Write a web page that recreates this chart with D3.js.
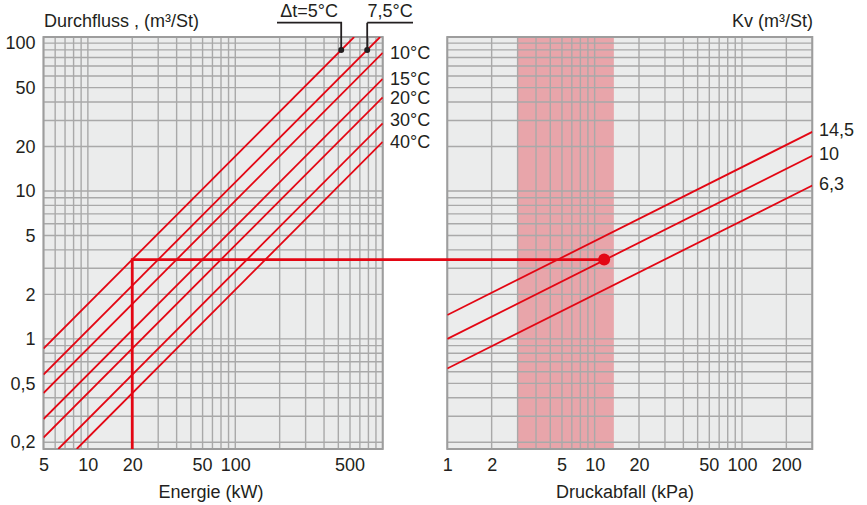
<!DOCTYPE html>
<html lang="de">
<head>
<meta charset="UTF-8">
<title>Durchfluss / Druckabfall</title>
<script src="https://d3js.org/d3.v7.min.js"></script>
<style>
  body { margin: 0; background: #fff; }
  text { font-family: "Liberation Sans", Arial, sans-serif; fill: #231f20; }
</style>
</head>
<body>
<div id="chart"></div>
<script>
// left panel: flow vs. power, one line per temperature difference
const dtNames = ["5", "7,5", "10", "15", "20", "30", "40"];
const dtStart = [[5, 0.86], [5, 0.573], [5, 0.43], [5, 0.287], [5, 0.215], [6.3, 0.18], [8.4, 0.18]];
const dtEnd = [[640, 110], [960, 110], [1000, 86], [1000, 57.3], [1000, 43], [1000, 28.7], [1000, 21.5]];
const dtMarks = [[523, 90], [785, 90]];

// right panel: flow vs. pressure drop, one line per Kv
const kvNames = ["14,5", "10", "6,3"];
const kvStart = [[1, 1.45], [1, 1.0], [1, 0.63]];
const kvEnd = [[300, 25.1], [300, 17.3], [300, 10.9]];
const band = [3, 13.5];

// worked example: 20 kW -> 3,44 m3/h -> 11,6 kPa
const example = { power: 20, flow: 3.44, drop: 11.6 };

const yTicks = [0.2, 0.5, 1, 2, 5, 10, 20, 50, 100];
const xTicksL = [5, 10, 20, 50, 100, 500];
const xTicksR = [1, 2, 5, 10, 20, 50, 100, 200];

const width = 867, height = 505;
const plotTop = 37, plotBottom = 449;
const red = "#e30613", gridCol = "#a9a9a9", bg = "#ebecec";
const fs = "18px";

const svg = d3.select("#chart").append("svg")
  .attr("width", width)
  .attr("height", height);

const y = d3.scaleLog().domain([0.18, 110]).range([plotBottom, plotTop]);
const xL = d3.scaleLog().domain([5, 1000]).range([43.5, 382.7]);
const xR = d3.scaleLog().domain([1, 300]).range([447.3, 812.3]);

function panel(x, id) {
  const [x0, x1] = x.range();
  const g = svg.append("g");
  g.append("rect")
    .attr("x", x0).attr("y", plotTop)
    .attr("width", x1 - x0).attr("height", plotBottom - plotTop)
    .attr("fill", bg);
  if (id === "R") {
    g.append("rect")
      .attr("x", x(band[0])).attr("y", plotTop)
      .attr("width", x(band[1]) - x(band[0])).attr("height", plotBottom - plotTop)
      .attr("fill", "#e8a5aa");
  }
  const grid = g.append("g").attr("stroke", gridCol).attr("stroke-width", 1.4);
  grid.selectAll(".v").data(x.ticks()).join("line").attr("class", "v")
    .attr("x1", d => x(d)).attr("x2", d => x(d))
    .attr("y1", plotTop).attr("y2", plotBottom);
  grid.selectAll(".h").data(y.ticks()).join("line").attr("class", "h")
    .attr("x1", x0).attr("x2", x1)
    .attr("y1", d => y(d)).attr("y2", d => y(d));
  g.append("rect")
    .attr("x", x0).attr("y", plotTop)
    .attr("width", x1 - x0).attr("height", plotBottom - plotTop)
    .attr("fill", "none").attr("stroke", "#9d9d9d").attr("stroke-width", 2);

  svg.append("clipPath").attr("id", "clip" + id)
    .append("rect")
      .attr("x", x0).attr("y", plotTop)
      .attr("width", x1 - x0).attr("height", plotBottom - plotTop);
}

panel(xL, "L");
panel(xR, "R");

// axes
const comma = d => String(d).replace(".", ",");
const yAxis = svg.append("g")
  .attr("transform", `translate(${xL.range()[0]},0)`)
  .call(d3.axisLeft(y).tickValues(yTicks).tickFormat(comma).tickSize(0).tickPadding(8));

function bottomAxis(x, ticks, shifted) {
  const ax = svg.append("g")
    .attr("transform", `translate(0,${plotBottom})`)
    .call(d3.axisBottom(x).tickValues(ticks).tickFormat(comma).tickSize(0).tickPadding(9));
  // the "5" labels sit one grid line to the right in the original drawing
  ax.selectAll(".tick")
    .filter(d => shifted.includes(d))
    .attr("transform", d => `translate(${x(d * 1.2)},0)`);
  return ax;
}
const axL = bottomAxis(xL, xTicksL, [50, 500]);
const axR = bottomAxis(xR, xTicksR, [5, 50]);

[yAxis, axL, axR].forEach(a => {
  a.select(".domain").remove();
  a.selectAll("text").style("font-size", fs).attr("fill", "#231f20");
});

// titles
svg.append("text").attr("x", 44).attr("y", 27).style("font-size", fs)
  .text("Durchfluss , (m³/St)");
svg.append("text").attr("x", 813).attr("y", 27).attr("text-anchor", "end").style("font-size", fs)
  .text("Kv (m³/St)");
svg.append("text").attr("x", 211).attr("y", 498).attr("text-anchor", "middle").style("font-size", fs)
  .text("Energie (kW)");
svg.append("text").attr("x", 625).attr("y", 498).attr("text-anchor", "middle").style("font-size", fs)
  .text("Druckabfall (kPa)");

// left lines
const gL = svg.append("g").attr("clip-path", "url(#clipL)");
gL.selectAll("line").data(dtNames).join("line")
  .attr("x1", (d, i) => xL(dtStart[i][0])).attr("y1", (d, i) => y(dtStart[i][1]))
  .attr("x2", (d, i) => xL(dtEnd[i][0])).attr("y2", (d, i) => y(dtEnd[i][1]))
  .attr("stroke", red).attr("stroke-width", 1.8);

// temperature labels for lines ending on the right edge
dtNames.forEach((d, i) => {
  if (i < 2) return;
  svg.append("text")
    .attr("x", 390).attr("y", y(dtEnd[i][1]) - (d === "30" ? 4 : 0))
    .attr("dy", "0.36em")
    .style("font-size", fs)
    .text(d + "°C");
});

// leader labels for 5 and 7,5
const leaders = [{ text: "\u0394t=5°C", left: 277 }, { text: "7,5°C", right: 413 }];
dtMarks.forEach((m, i) => {
  const mx = xL(m[0]), my = y(m[1]);
  const lx0 = i === 0 ? leaders[i].left : mx;
  const lx1 = i === 0 ? mx : leaders[i].right;
  svg.append("path")
    .attr("d", `M${lx0},22.7H${lx1}` + (i === 0 ? `V${my}` : `M${lx0},22.7V${my}`))
    .attr("fill", "none").attr("stroke", "#231f20").attr("stroke-width", 1.8);
  svg.append("circle").attr("cx", mx).attr("cy", my).attr("r", 3).attr("fill", "#231f20");
  svg.append("text")
    .attr("x", (lx0 + lx1) / 2).attr("y", 17)
    .attr("text-anchor", "middle")
    .style("font-size", fs)
    .text(leaders[i].text);
});

// right lines
const gR = svg.append("g").attr("clip-path", "url(#clipR)");
gR.selectAll("line").data(kvNames).join("line")
  .attr("x1", (d, i) => xR(kvStart[i][0])).attr("y1", (d, i) => y(kvStart[i][1]))
  .attr("x2", (d, i) => xR(kvEnd[i][0])).attr("y2", (d, i) => y(kvEnd[i][1]))
  .attr("stroke", red).attr("stroke-width", 1.8);

svg.selectAll(".kvlab").data(kvNames).join("text").attr("class", "kvlab")
  .attr("x", 819).attr("y", (d, i) => y(kvEnd[i][1]) - 2)
  .attr("dy", "0.36em")
  .style("font-size", fs)
  .text(d => d);

// worked example
svg.append("path")
  .attr("d", `M${xL(example.power)},${plotBottom}V${y(example.flow)}H${xR(example.drop)}`)
  .attr("fill", "none").attr("stroke", red).attr("stroke-width", 2.8);
svg.append("circle")
  .attr("cx", xR(example.drop)).attr("cy", y(example.flow))
  .attr("r", 6).attr("fill", red);
</script>
</body>
</html>
